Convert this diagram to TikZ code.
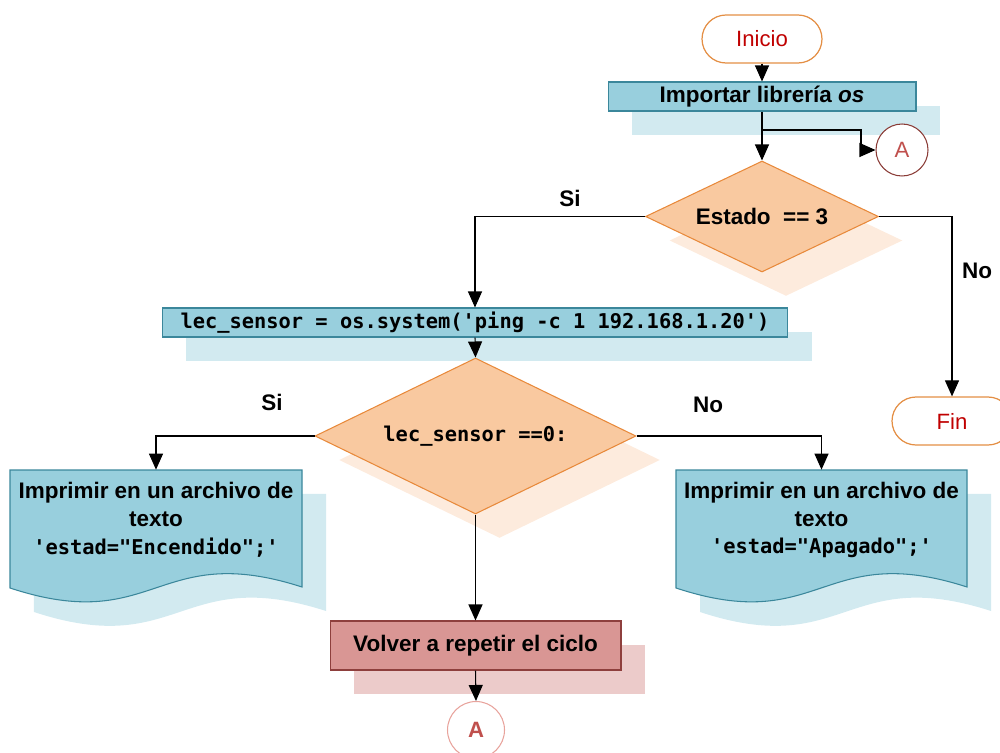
\documentclass[tikz,border=0pt]{standalone}
\usepackage{fontspec}
\setmainfont{Liberation Sans}
\setmonofont{DejaVu Sans Mono}
\usetikzlibrary{shapes.geometric,shapes.misc,arrows.meta,shadows}

\definecolor{blueFill}{HTML}{98CFDD}
\definecolor{blueLine}{HTML}{3B879B}
\definecolor{blueShade}{HTML}{D2EAF0}
\definecolor{peachFill}{HTML}{F9C9A0}
\definecolor{peachLine}{HTML}{E8893A}
\definecolor{peachShade}{HTML}{FDEBDD}
\definecolor{roseFill}{HTML}{D99694}
\definecolor{roseLine}{HTML}{8E3F3D}
\definecolor{roseShade}{HTML}{ECCBCA}
\definecolor{termLine}{HTML}{E48F45}
\definecolor{termText}{HTML}{C00000}
\definecolor{connText}{HTML}{C0504D}
\definecolor{connLine}{HTML}{8A3B36}
\definecolor{connLineLight}{HTML}{E8A39C}

\tikzset{
  x=0.02cm, y=-0.02cm,
  boldtext/.style={font=\fontsize{12.8pt}{15.9pt}\selectfont\bfseries},
  codetext/.style={font=\fontsize{11.6pt}{14pt}\selectfont\ttfamily\bfseries},
  offshade/.style={copy shadow={shadow xshift=0.48cm, shadow yshift=-0.48cm,
      opacity=1, draw=none, fill=#1}},
  terminal/.style={rounded rectangle, draw=termLine, line width=0.7pt, fill=white,
      minimum width=2.4cm, minimum height=0.96cm, inner sep=0pt, text=termText,
      font=\fontsize{12.6pt}{15pt}\selectfont},
  procbox/.style={rectangle, draw=blueLine, fill=blueFill, line width=0.6pt,
      inner sep=0pt, offshade=blueShade},
  decision/.style={diamond, aspect=2.1, draw=peachLine, fill=peachFill, line width=0.6pt,
      inner sep=0pt, offshade=peachShade},
  docshape/.style={draw=blueLine, fill=blueFill, line width=0.6pt, offshade=blueShade},
  endbox/.style={rectangle, draw=roseLine, fill=roseFill, line width=0.6pt,
      inner sep=0pt, offshade=roseShade},
  flow/.style={draw=black, line width=0.6pt, -{Triangle[length=0.32cm,width=0.28cm]}},
}

\begin{document}
\begin{tikzpicture}
\useasboundingbox (0,0) rectangle (1000,753);

% start and first process
\node[terminal] (ini) at (762,39) {Inicio};
\node[procbox, boldtext, minimum width=6.16cm, minimum height=0.58cm] (imp) at (762,96.5)
  {Importar librería \textit{os}};

% connector A (entry point of the loop)
\node[circle, draw=connLine, fill=white, line width=0.6pt, minimum size=1.04cm, inner sep=0pt,
  text=connText, font=\fontsize{12.6pt}{15pt}\selectfont] (cA1) at (902,150) {A};

% first decision
\node[decision, boldtext, minimum width=4.66cm, minimum height=2.22cm] (d1) at (762,216.5)
  {Estado\ \ == 3};

% end
\node[terminal] (fin) at (952,421) {Fin};

% ping command
\node[procbox, codetext, minimum width=12.52cm, minimum height=0.58cm] (lec) at (475,322.5)
  {lec\_sensor = os.system('ping -c 1 192.168.1.20')};

% second decision
\node[decision, codetext, minimum width=6.42cm, minimum height=3.12cm] (d2) at (475.5,436)
  {lec\_sensor ==0:};

% document outputs
\path[docshape] (10,470) -- (302,470) -- (302,587)
  .. controls (156,540) and (156,636) .. (10,588) -- cycle;
\path[docshape] (676,470) -- (967,470) -- (967,587)
  .. controls (821.5,540) and (821.5,636) .. (676,588) -- cycle;
\node[boldtext, align=center, minimum width=5.84cm, minimum height=2cm, inner sep=0pt] (docL) at (156,520)
  {Imprimir en un archivo de\\texto\\{\fontsize{11.6pt}{15.9pt}\selectfont\ttfamily 'estad="Encendido";'}};
\node[boldtext, align=center, minimum width=5.82cm, minimum height=2cm, inner sep=0pt] (docR) at (821.5,520)
  {Imprimir en un archivo de\\texto\\{\fontsize{11.6pt}{15.9pt}\selectfont\ttfamily 'estad="Apagado";'}};

% loop back
\node[endbox, boldtext, minimum width=5.82cm, minimum height=0.98cm] (vol) at (475.5,645.5)
  {Volver a repetir el ciclo};
\node[circle, draw=connLineLight, fill=white, line width=0.6pt, minimum size=1.14cm, inner sep=0pt,
  text=connText, font=\fontsize{12.6pt}{15pt}\selectfont\bfseries] (cA2) at (476,730) {A};

% branch labels
\node[boldtext] (si1) at (570,198) {Si};
\node[boldtext] (no1) at (977,271) {No};
\node[boldtext] (si2) at (272,402) {Si};
\node[boldtext] (no2) at (708,405) {No};

% connectors
\coordinate (split) at (762,130);
\coordinate (bend) at (861,150);
\draw[flow] (ini.south) -- (imp.north);
\draw[flow] (imp.south) -- (d1.north);
\draw[flow] (split) -| (bend) -- (cA1.west);
\draw[flow] (d1.west) -| (lec.north);
\draw[flow] (d1.east) -| (fin.north);
\draw[flow] (lec.south) -- (d2.north);
\draw[flow] (d2.west) -| (docL.north);
\draw[flow] (d2.east) -| (docR.north);
\draw[flow] (d2.south) -- (vol.north);
\draw[flow] (vol.south) -- (cA2.north);
\end{tikzpicture}
\end{document}
